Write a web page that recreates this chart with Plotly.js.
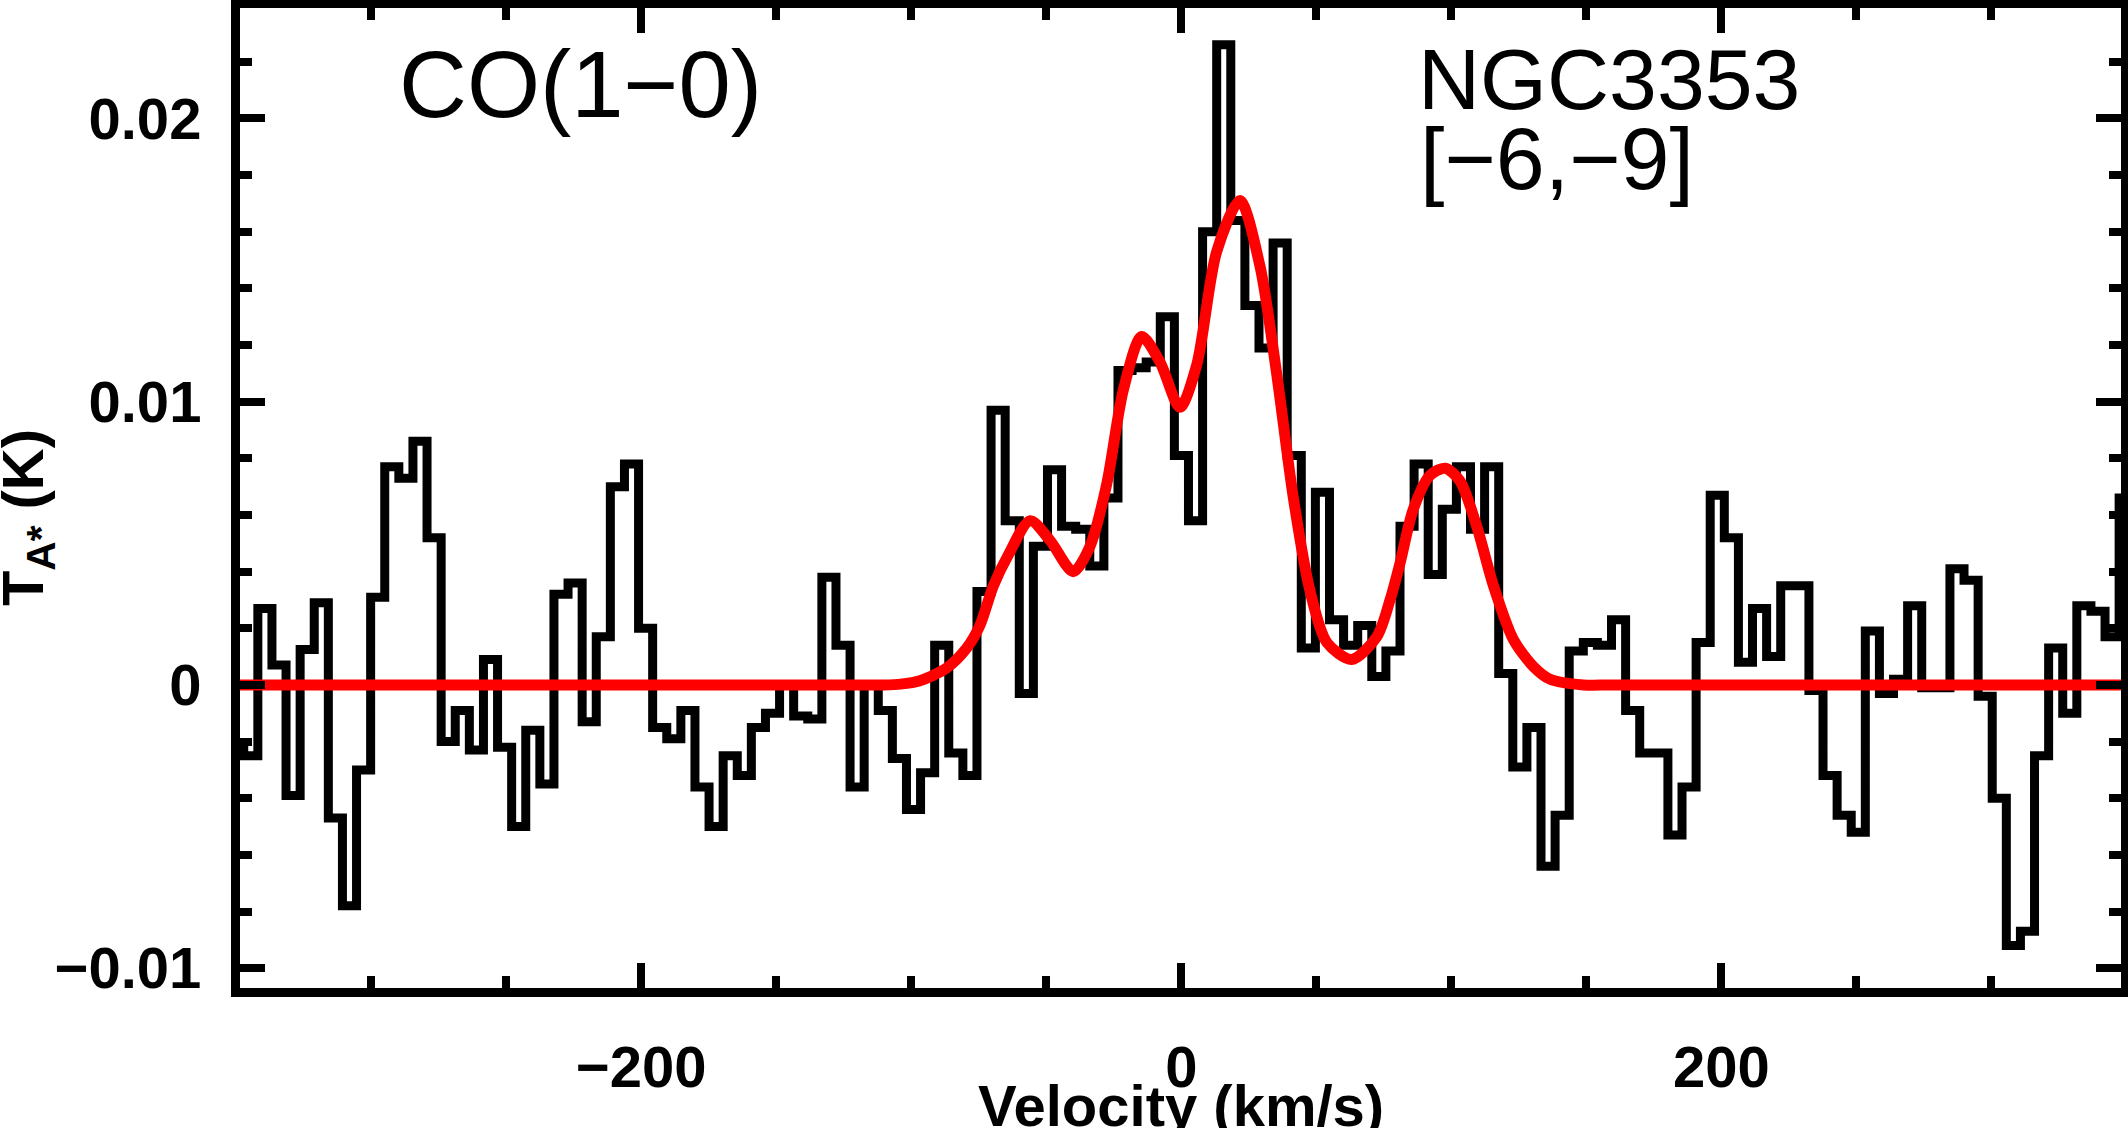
<!DOCTYPE html>
<html>
<head>
<meta charset="utf-8">
<script src="https://cdn.plot.ly/plotly-3.0.1.min.js"></script>
<style>
  html, body { margin: 0; padding: 0; background: #fff; }
  #graph { width: 2128px; height: 1128px; }
</style>
</head>
<body>
<div id="graph"></div>
<script>
// CO(1-0) spectrum, channel centres start at chanStart and step by chanWidth (km/s)
var chanStart = -355.05;
var chanWidth = 5.222;
var tmb = [
  -0.0036, -0.0022, -0.0025, 0.0027, 0.0007, -0.0039, 0.00125, 0.0029, -0.0047, -0.0078,
  -0.0030, 0.0031, 0.0077, 0.0073, 0.0086, 0.0052, -0.0020, -0.0009, -0.0023, 0.0009,
  -0.0022, -0.0050, -0.0016, -0.0035, 0.0032, 0.0036, -0.0013, 0.0017, 0.0070, 0.0078,
  0.0020, -0.0015, -0.0019, -0.0009, -0.0036, -0.0050, -0.0025, -0.0032, -0.0015, -0.0010,
  0.0000, -0.0011, -0.0012, 0.0038, 0.0014, -0.0036, 0.0000, -0.0009, -0.0026, -0.0044,
  -0.0031, 0.0014, -0.0024, -0.0032, 0.0033, 0.0097, 0.0058, -0.0003, 0.0049, 0.0076,
  0.0056, 0.0055, 0.0042, 0.0066, 0.0111, 0.0112, 0.0114, 0.0130, 0.0081, 0.0058,
  0.0160, 0.0226, 0.0164, 0.0134, 0.0119, 0.0156, 0.0081, 0.0013, 0.0068, 0.0023,
  0.0014, 0.0021, 0.0003, 0.0012, 0.0056, 0.0078, 0.0039, 0.0062, 0.0077, 0.0055,
  0.0077, 0.0004, -0.0029, -0.0015, -0.0064, -0.0046, 0.0012, 0.0015, 0.0014, 0.0023,
  -0.0009, -0.0024, -0.0024, -0.0053, -0.0036, 0.0015, 0.0067, 0.0052, 0.0008, 0.0027,
  0.0010, 0.0035, 0.0035, -0.0002, -0.0032, -0.0046, -0.0052, 0.0019, -0.0003, 0.0002,
  0.0028, -0.0001, -0.0001, 0.0041, 0.0037, -0.0004, -0.0040, -0.0092, -0.0087, -0.0025,
  0.0013, -0.0010, 0.0028, 0.0026, 0.0017, 0.0066, 0.0066
];

// gaussian fit
var fitVel = [-350, -110, -104, -96.8, -86.9, -79.5, -74.6, -69.6, -64, -56, -48.6, -40, -33.8,
  -27.6, -21.5, -14.7, -7.9, -0.5, 5.7, 13.1, 21.7, 29.1, 35.3, 41.5, 47.7, 53.9, 63.1, 72.4,
  77.3, 81.0, 85.9, 92.1, 97.7, 103.2, 109.4, 115.6, 123.0, 130.4, 136.6, 148.9, 160, 350];
var fitVal = [0, 0, 0.00003, 0.00015, 0.0006, 0.0013, 0.0021, 0.0035, 0.0046, 0.0058, 0.0051, 0.0040, 0.0049,
  0.0071, 0.0104, 0.0123, 0.0114, 0.0098, 0.0113, 0.0153, 0.0171, 0.0148, 0.0110, 0.0066, 0.0033, 0.0015, 0.0009, 0.0017,
  0.0030, 0.0043, 0.0062, 0.0074, 0.00765, 0.0072, 0.0056, 0.0035, 0.0016, 0.00065, 0.0002, 0, 0, 0];

var lineName = 'CO(1\u22120)';
var galaxy = 'NGC3353';
var offsetLabel = '[\u22126,\u22129]';
var xTitle = 'Velocity (km/s)';
var yTitle = 'T<sub>A*</sub> (K)';

var vel = [];
for (var i = 0; i < tmb.length; i++) {
    vel.push(chanStart + i * chanWidth);
}

var traceSpec = {
    x: vel,
    y: tmb,
    type: 'scatter',
    mode: 'lines',
    line: { color: '#000', width: 9, shape: 'hvh' },
    hoverinfo: 'skip'
};

var traceFit = {
    x: fitVel,
    y: fitVal,
    type: 'scatter',
    mode: 'lines',
    line: { color: 'rgb(255,0,0)', width: 11, shape: 'spline', smoothing: 0.8 },
    hoverinfo: 'skip'
};

var tickFont = { family: 'Liberation Sans, Arial, sans-serif', size: 58, color: '#000', weight: 'bold' };
var titleFont = { family: 'Liberation Sans, Arial, sans-serif', size: 58, color: '#000', weight: 'bold' };
var textFont = { family: 'Liberation Sans, Arial, sans-serif', color: '#000' };

var layout = {
    width: 2128,
    height: 1128,
    margin: { l: 240, r: 7, t: 8, b: 140 },
    paper_bgcolor: '#fff',
    plot_bgcolor: '#fff',
    showlegend: false,
    xaxis: {
        range: [-348.6, 348.0],
        showgrid: false,
        zeroline: false,
        showline: true,
        linecolor: '#000',
        linewidth: 9,
        mirror: 'allticks',
        ticks: 'inside',
        ticklen: 25,
        tickwidth: 8,
        tickcolor: '#000',
        tick0: 0,
        dtick: 200,
        minor: { dtick: 50, ticks: 'inside', ticklen: 12, tickwidth: 8, tickcolor: '#000' },
        tickfont: tickFont,
        ticklabelstandoff: 20
    },
    yaxis: {
        range: [-0.0107, 0.0239],
        showgrid: false,
        zeroline: false,
        showline: true,
        linecolor: '#000',
        linewidth: 9,
        mirror: 'allticks',
        ticks: 'inside',
        ticklen: 25,
        tickwidth: 8,
        tickcolor: '#000',
        tick0: 0,
        dtick: 0.01,
        minor: { dtick: 0.002, ticks: 'inside', ticklen: 12, tickwidth: 8, tickcolor: '#000' },
        tickfont: tickFont,
        ticklabelstandoff: 18
    },
    annotations: [
        { text: lineName, xref: 'paper', yref: 'paper', x: 0.0835, y: 0.922, xanchor: 'left', yanchor: 'middle',
          showarrow: false, font: Object.assign({ size: 94 }, textFont) },
        { text: galaxy, xref: 'paper', yref: 'paper', x: 0.6254, y: 0.928, xanchor: 'left', yanchor: 'middle',
          showarrow: false, font: Object.assign({ size: 86 }, textFont) },
        { text: offsetLabel, xref: 'paper', yref: 'paper', x: 0.626, y: 0.846, xanchor: 'left', yanchor: 'middle',
          showarrow: false, font: Object.assign({ size: 88 }, textFont) },
        // axis titles sit partly outside the picture in the reference, so they are annotations
        { text: xTitle, xref: 'paper', yref: 'paper', x: 0.5, y: -0.12, xanchor: 'center', yanchor: 'middle',
          showarrow: false, font: titleFont },
        { text: yTitle, xref: 'paper', yref: 'paper', x: -0.1135, y: 0.48, xanchor: 'center', yanchor: 'middle',
          textangle: -90, showarrow: false, font: titleFont }
    ]
};

Plotly.newPlot('graph', [traceSpec, traceFit], layout, { staticPlot: true });
</script>
</body>
</html>
